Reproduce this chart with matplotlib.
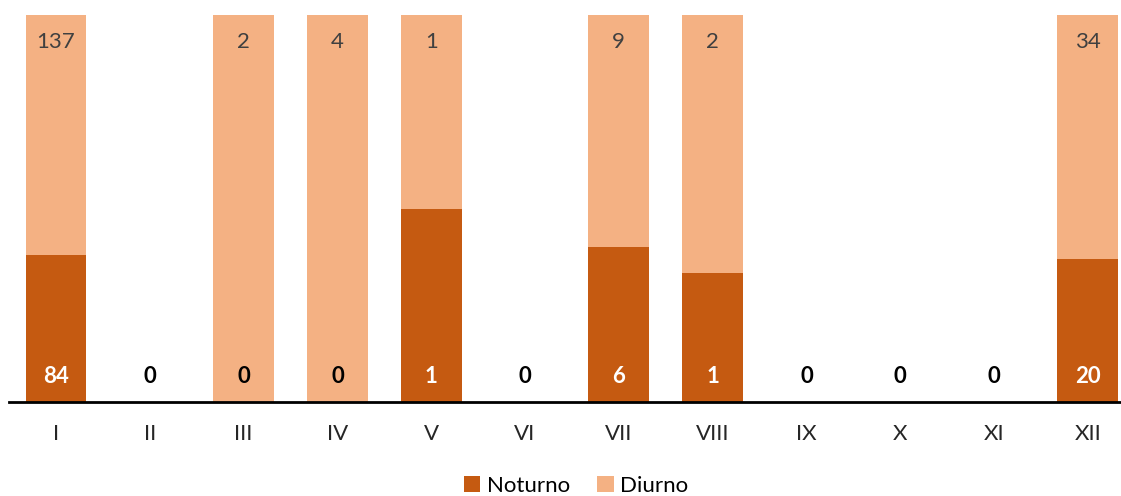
import numpy as np
import matplotlib
matplotlib.use("Agg")
import matplotlib.pyplot as plt

plt.rcParams['font.family'] = ['Lato', 'DejaVu Sans']

meses = ["I", "II", "III", "IV", "V", "VI", "VII", "VIII", "IX", "X", "XI", "XII"]
noturno = [84, 0, 0, 0, 1, 0, 6, 1, 0, 0, 0, 20]
diurno = [137, 0, 2, 4, 1, 0, 9, 2, 0, 0, 0, 34]

c_not = "#C55A11"
c_diu = "#F4B183"

noturno = np.array(noturno, dtype=float)
diurno = np.array(diurno, dtype=float)
total = noturno + diurno
safe = np.where(total > 0, total, 1)
p_not = noturno / safe
p_diu = diurno / safe

fig = plt.figure(figsize=(11.21, 4.96), dpi=100)
ax = fig.add_axes([9.1 / 1121, 1 - 402 / 496, 1125.6 / 1121, 387 / 496])

x = np.arange(len(meses))
ax.bar(x, p_not, width=0.65, color=c_not, label="Noturno")
ax.bar(x, p_diu, width=0.65, bottom=p_not, color=c_diu, label="Diurno")

for i in range(len(meses)):
    col = "white" if noturno[i] > 0 else "black"
    ax.text(x[i], 0.067, "%d" % noturno[i], ha="center", va="center",
            fontsize=16, fontweight="bold", color=col)
    if total[i] > 0:
        ax.text(x[i], 0.93, "%d" % diurno[i], ha="center", va="center",
                fontsize=16, color="#404040")

ax.set_xlim(-0.5, len(meses) - 0.5)
ax.set_ylim(0, 1)
ax.set_xticks(x)
ax.set_xticklabels(meses, fontsize=16, color="#262626")
ax.tick_params(axis="x", length=0, pad=16)
ax.set_yticks([])
for s in ["top", "right", "left"]:
    ax.spines[s].set_visible(False)
ax.spines["bottom"].set_linewidth(2)

fig.legend(loc="center", bbox_to_anchor=(576 / 1121, 1 - 486 / 496), ncol=2,
           frameon=False, fontsize=16, handlelength=0.75, handleheight=0.75,
           handletextpad=0.3, columnspacing=1.2)

fig.savefig("out.png", dpi=100)
